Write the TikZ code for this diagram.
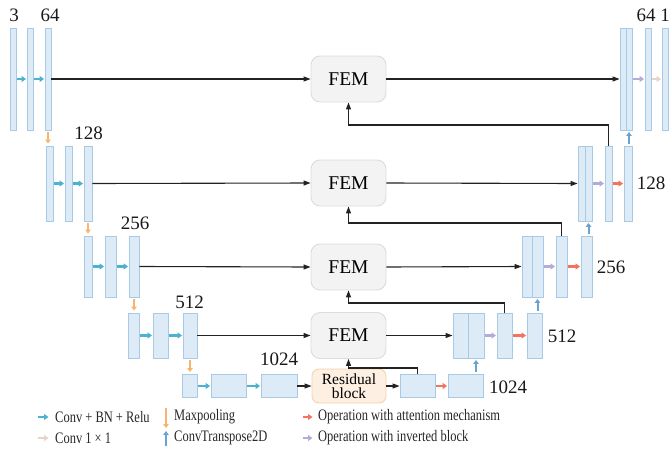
\documentclass[tikz,border=0pt]{standalone}
\usepackage{fontspec}
\setmainfont{Liberation Serif}
\newfontfamily\legfont[FakeStretch=0.78]{Liberation Serif}
\usetikzlibrary{arrows.meta}
\definecolor{boxfill}{HTML}{DDEBF7}
\definecolor{boxline}{HTML}{A9C9E8}
\definecolor{femfill}{HTML}{F3F3F3}
\definecolor{femline}{HTML}{DCDCDC}
\definecolor{resfill}{HTML}{FDF0E2}
\definecolor{resline}{HTML}{F4D3AE}
\definecolor{cconv}{HTML}{4CB2CF}
\definecolor{cpool}{HTML}{F9B46B}
\definecolor{catt}{HTML}{F2745F}
\definecolor{cinv}{HTML}{B6AAD9}
\definecolor{cone}{HTML}{E6D3C9}
\definecolor{ctr}{HTML}{6BA3D0}
\definecolor{cline}{HTML}{222222}
\newcommand{\bx}[5]{\node[blk,minimum width=#4pt,minimum height=#5pt] (#1) at (#2,#3) {};}
\tikzset{
  blk/.style={draw=boxline,fill=boxfill,line width=0.9pt,inner sep=0pt},
  fem/.style={draw=femline,fill=femfill,line width=0.9pt,rounded corners=9pt,minimum width=75pt,minimum height=46pt,inner sep=0pt,font=\fontsize{19.5}{20}\selectfont},
  res/.style={draw=resline,fill=resfill,line width=0.9pt,rounded corners=7pt,minimum width=74pt,minimum height=34pt,inner sep=0pt,align=center,font=\fontsize{15.5}{14.5}\selectfont},
  num/.style={inner sep=0pt,font=\fontsize{19}{20}\selectfont,text=black!90},
  leg/.style={inner sep=0pt,anchor=west,font=\legfont\fontsize{16}{18}\selectfont,text=black!85},
  conn/.style={draw=cline,line width=1.1pt,-{Triangle[length=7pt,width=5pt]}},
  fb/.style={draw=cline,line width=1.1pt,-{Triangle[length=7pt,width=5pt]}},
  op/.style={line width=2.6pt,-{Triangle[length=4.5pt,width=6pt]},shorten <=0.5pt,shorten >=0.5pt},
  conv/.style={op,draw=cconv},
  pool/.style={op,draw=cpool,line width=2pt,-{Triangle[length=4pt,width=5.5pt]},shorten <=2pt,shorten >=2pt},
  att/.style={op,draw=catt},
  inv/.style={op,draw=cinv},
  one/.style={op,draw=cone},
  tr/.style={op,draw=ctr,line width=2pt,-{Triangle[length=4pt,width=5.5pt]},shorten <=2pt,shorten >=1.5pt},
}
\begin{document}
\begin{tikzpicture}[x=1pt,y=-1pt]
\useasboundingbox (0,0) rectangle (669,458);
% ---- level 1
\bx{a1}{13}{79}{6}{102}
\bx{a2}{30}{79}{6}{102}
\bx{a3}{48}{79}{6}{102}
\bx{d1a}{623}{79}{6}{102}
\bx{d1b}{629}{79}{6}{102}
\bx{e1}{648}{79}{6}{102}
\bx{f1}{665}{79}{6}{102}
% ---- level 2
\bx{b1}{49.5}{183.5}{7}{75}
\bx{b2}{68.5}{183.5}{7}{75}
\bx{b3}{88}{183.5}{8}{75}
\bx{d2a}{581.5}{183.5}{7}{75}
\bx{d2b}{588.5}{183.5}{7}{75}
\bx{e2}{608.5}{183.5}{7}{75}
\bx{f2}{628}{183.5}{8}{75}
% ---- level 3
\bx{c1}{88}{266.5}{8}{61}
\bx{c2}{110.5}{266.5}{11}{61}
\bx{c3}{134}{266.5}{10}{61}
\bx{d3a}{527}{266.5}{10}{61}
\bx{d3b}{537.5}{266.5}{11}{61}
\bx{e3}{561.5}{266.5}{11}{61}
\bx{f3}{586.5}{266.5}{11}{61}
% ---- level 4
\bx{g1}{133.5}{335.5}{11}{45}
\bx{g2}{160.5}{335.5}{15}{45}
\bx{g3}{190}{335.5}{14}{45}
\bx{d4a}{460.5}{335.5}{15}{45}
\bx{d4b}{476}{335.5}{16}{45}
\bx{e4}{504.5}{335.5}{15}{45}
\bx{f4}{534.5}{335.5}{15}{45}
% ---- level 5
\bx{h1}{189.5}{386}{15}{23}
\bx{h2}{228.5}{386}{35}{23}
\bx{h3}{279}{386}{36}{23}
\bx{k1}{417.5}{386}{35}{23}
\bx{k2}{465.5}{386}{35}{23}
% ---- FEM and residual
\node[fem] (fem1) at (348.5,79) {FEM};
\node[fem] (fem2) at (348.5,183) {FEM};
\node[fem] (fem3) at (348.5,267) {FEM};
\node[fem] (fem4) at (348.5,335.5) {FEM};
\node[res] (res) at (349,386) {Residual\\block};
% ---- labels
\node[num] (n3) at (14,15) {3};
\node[num] (n64) at (50,15) {64};
\node[num] (n128) at (88.5,133) {128};
\node[num] (n256) at (135,223) {256};
\node[num] (n512) at (189.5,302) {512};
\node[num] (n1024) at (279,359) {1024};
\node[num] (m64) at (646,15) {64};
\node[num] (m1) at (665,15) {1};
\node[num] (m128) at (651,183) {128};
\node[num] (m256) at (611,267) {256};
\node[num] (m512) at (562,336) {512};
\node[num] (m1024) at (508,387) {1024};
% ---- skip connections
\draw[conn] (a3.east) -- (fem1.west);
\draw[conn] (fem1.east) -- (d1a.west);
\draw[conn] (b3.east) -- (fem2.west);
\draw[conn] (fem2.east) -- (d2a.west);
\draw[conn] (c3.east) -- (fem3.west);
\draw[conn] (fem3.east) -- (d3a.west);
\draw[conn] (g3.east) -- (fem4.west);
\draw[conn] (fem4.east) -- (d4a.west);
\draw[conn] (h3.east) -- (res.west);
\draw[conn] (res.east) -- (k1.west);
% ---- feedback
\coordinate (t1) at (0,125);
\coordinate (t2) at (0,223);
\coordinate (t3) at (0,303);
\coordinate (t4) at (0,368);
\draw[fb] (e2.north) -- (e2.north |- t1) -| (fem1.south);
\draw[fb] (e3.north) -- (e3.north |- t2) -| (fem2.south);
\draw[fb] (e4.north) -- (e4.north |- t3) -| (fem3.south);
\draw[fb] (k1.north) -- (k1.north |- t4) -| (fem4.south);
% ---- conv arrows
\draw[conv] (a1.east) -- (a2.west);
\draw[conv] (a2.east) -- (a3.west);
\draw[conv] (b1.east) -- (b2.west);
\draw[conv] (b2.east) -- (b3.west);
\draw[conv] (c1.east) -- (c2.west);
\draw[conv] (c2.east) -- (c3.west);
\draw[conv] (g1.east) -- (g2.west);
\draw[conv] (g2.east) -- (g3.west);
\draw[conv] (h1.east) -- (h2.west);
\draw[conv] (h2.east) -- (h3.west);
% ---- pooling
\draw[pool] (a3.south) -- (a3.south |- b1.north);
\draw[pool] (b3.south) -- (b3.south |- c1.north);
\draw[pool] (c3.south) -- (c3.south |- g1.north);
\draw[pool] (g3.south) -- (g3.south |- h1.north);
% ---- decoder ops
\draw[inv] (d1b.east) -- (e1.west);
\draw[one] (e1.east) -- (f1.west);
\draw[inv] (d2b.east) -- (e2.west);
\draw[att] (e2.east) -- (f2.west);
\draw[inv] (d3b.east) -- (e3.west);
\draw[att] (e3.east) -- (f3.west);
\draw[inv] (d4b.east) -- (e4.west);
\draw[att] (e4.east) -- (f4.west);
\draw[att] (k1.east) -- (k2.west);
% ---- transpose
\draw[tr] (d1b.south |- f2.north) -- (d1b.south);
\draw[tr] (d2b.south |- f3.north) -- (d2b.south);
\draw[tr] (d3b.south |- f4.north) -- (d3b.south);
\draw[tr] (d4b.south |- k2.north) -- (d4b.south);
% ---- legend
\draw[conv] (37,417) -- (49,417);
\node[leg] (L1) at (55,417) {Conv + BN + Relu};
\draw[one] (37,438) -- (49,438);
\node[leg] (L2) at (55,438) {Conv 1 × 1};
\draw[pool,shorten <=0pt,shorten >=0pt] (166,408) -- (166,428);
\node[leg] (L3) at (174,417) {Maxpooling};
\draw[tr,shorten <=0pt,shorten >=0pt] (166,446) -- (166,431);
\node[leg] (L4) at (174,438) {ConvTranspose2D};
\draw[att] (302,417) -- (313,417);
\node[leg] (L5) at (318,417) {Operation with attention mechanism};
\draw[inv] (302,438) -- (313,438);
\node[leg] (L6) at (318,438) {Operation with inverted block};
\end{tikzpicture}
\end{document}
